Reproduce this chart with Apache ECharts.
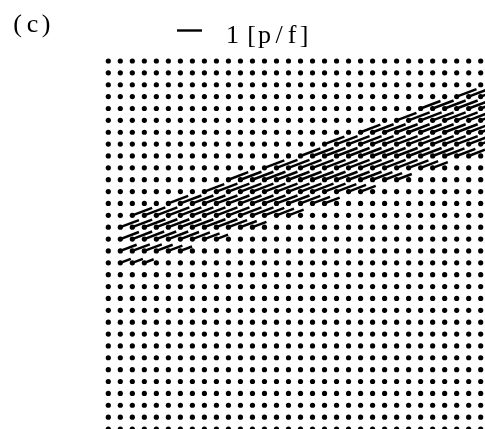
<!DOCTYPE html>
<html>
<head>
<meta charset="utf-8">
<script src="https://cdn.jsdelivr.net/npm/echarts@6/dist/echarts.min.js"></script>
<style>
  html, body { margin: 0; padding: 0; background: #fff; }
  #chart { width: 485px; height: 429px; }
</style>
</head>
<body>
<div id="chart"></div>
<script>
// Measurement grid: 32 x 32 interrogation points (column 0 = left, row 0 = top)
const nCols = 32;
const nRows = 32;

// Rows that carry a non-zero velocity, the first column with flow in that row,
// and the speed [p/f] at each consecutive column from there on.
const bandRows  = [3, 4, 5, 6, 7, 8, 9, 10, 11, 12, 13, 14, 15, 16, 17];
const bandStart = [29, 26, 24, 21, 18, 16, 13, 10, 8, 5, 2, 1, 1, 1, 1];
const bandSpeed = [
  [0.85, 0.9, 0.9],
  [0.85, 0.9, 0.9, 0.9, 0.9, 0.9],
  [0.85, 0.9, 0.9, 0.9, 0.9, 0.9, 0.9, 0.9],
  [0.85, 0.9, 0.9, 0.9, 0.9, 0.9, 0.9, 0.9, 0.9, 0.9, 0.9],
  [0.85, 0.9, 0.9, 0.9, 0.9, 0.9, 0.9, 0.9, 0.9, 0.9, 0.9, 0.9, 0.9, 0.9],
  [0.85, 0.9, 0.9, 0.9, 0.9, 0.9, 0.9, 0.9, 0.9, 0.9, 0.9, 0.9, 0.85, 0.8, 0.7],
  [0.85, 0.9, 0.9, 0.9, 0.9, 0.9, 0.9, 0.9, 0.9, 0.9, 0.9, 0.9, 0.85, 0.75, 0.65],
  [0.85, 0.9, 0.9, 0.9, 0.9, 0.9, 0.9, 0.9, 0.9, 0.9, 0.9, 0.9, 0.85, 0.75, 0.65],
  [0.85, 0.9, 0.9, 0.9, 0.9, 0.9, 0.9, 0.9, 0.9, 0.9, 0.9, 0.85, 0.75, 0.65],
  [0.85, 0.9, 0.9, 0.9, 0.9, 0.9, 0.9, 0.9, 0.9, 0.9, 0.9, 0.85, 0.75, 0.65],
  [0.85, 0.9, 0.9, 0.9, 0.9, 0.9, 0.9, 0.9, 0.9, 0.9, 0.9, 0.85, 0.75, 0.65],
  [0.8, 0.85, 0.9, 0.9, 0.9, 0.9, 0.9, 0.9, 0.9, 0.8, 0.7, 0.6],
  [0.8, 0.85, 0.85, 0.85, 0.85, 0.8, 0.75, 0.65, 0.5],
  [0.7, 0.75, 0.75, 0.7, 0.6, 0.5],
  [0.45, 0.45, 0.4]
];
// Flow direction, degrees above the horizontal
const flowAngleDeg = 21;

// Reference vector in the key
const refSpeed = 1;
const refLabel = ['1', '[', 'p', '/', 'f', ']'];
const panelLabel = ['(', 'c', ')'];

// Length of 1 p/f expressed in grid units
const unitsPerPf = 2.08;

const rad = flowAngleDeg * Math.PI / 180;
const field = [];
for (let r = 0; r < nRows; r++) {
  for (let c = 0; c < nCols; c++) {
    let u = 0, v = 0;
    const k = bandRows.indexOf(r);
    if (k >= 0) {
      const idx = c - bandStart[k];
      if (idx >= 0 && idx < bandSpeed[k].length) {
        const s = bandSpeed[k][idx];
        u = s * Math.cos(rad);
        v = s * Math.sin(rad);
      }
    }
    field.push([c, r, u, v]);
  }
}

const chart = echarts.init(document.getElementById('chart'), null, { renderer: 'canvas' });

const serif = '"Liberation Serif", "DejaVu Serif", serif';
const graphics = [];
// panel label
const panelX = [17.5, 32.5, 46];
panelLabel.forEach((ch, i) => graphics.push({
  type: 'text', x: panelX[i], y: 25,
  style: { text: ch, font: '26px ' + serif, fill: '#000', align: 'center', verticalAlign: 'middle' }
}));
// reference vector and its label
const refX0 = 177;
const refLen = refSpeed * unitsPerPf * 12.01;
graphics.push({
  type: 'line',
  shape: { x1: refX0, y1: 30.5, x2: refX0 + refLen, y2: 30.5 },
  style: { stroke: '#000', lineWidth: 2.4 }
});
const refLabelX = [232.5, 251.5, 264.5, 279, 292, 304];
refLabel.forEach((ch, i) => graphics.push({
  type: 'text', x: refLabelX[i], y: 36,
  style: { text: ch, font: '26px ' + serif, fill: '#000', align: 'center', verticalAlign: 'middle' }
}));

chart.setOption({
  animation: false,
  backgroundColor: '#fff',
  grid: { left: 108.3, top: 61, width: 372.4, height: 368.3 },
  xAxis: { type: 'value', min: 0, max: nCols - 1, show: false },
  yAxis: { type: 'value', min: 0, max: nRows - 1, inverse: true, show: false },
  graphic: graphics,
  series: [{
    type: 'custom',
    clip: false,
    data: field,
    renderItem: function (params, api) {
      const col = api.value(0), row = api.value(1);
      const u = api.value(2), v = api.value(3);
      const p0 = api.coord([col, row]);
      const children = [];
      if (u !== 0 || v !== 0) {
        const p1 = api.coord([col + u * unitsPerPf, row - v * unitsPerPf]);
        children.push({
          type: 'line',
          shape: { x1: p0[0], y1: p0[1], x2: p1[0], y2: p1[1] },
          style: { stroke: '#000', lineWidth: 2.5, lineCap: 'butt' }
        });
      }
      children.push({
        type: 'circle',
        shape: { cx: p0[0], cy: p0[1], r: 2.6 },
        style: { fill: '#000' }
      });
      return { type: 'group', children: children };
    }
  }]
});
</script>
</body>
</html>
